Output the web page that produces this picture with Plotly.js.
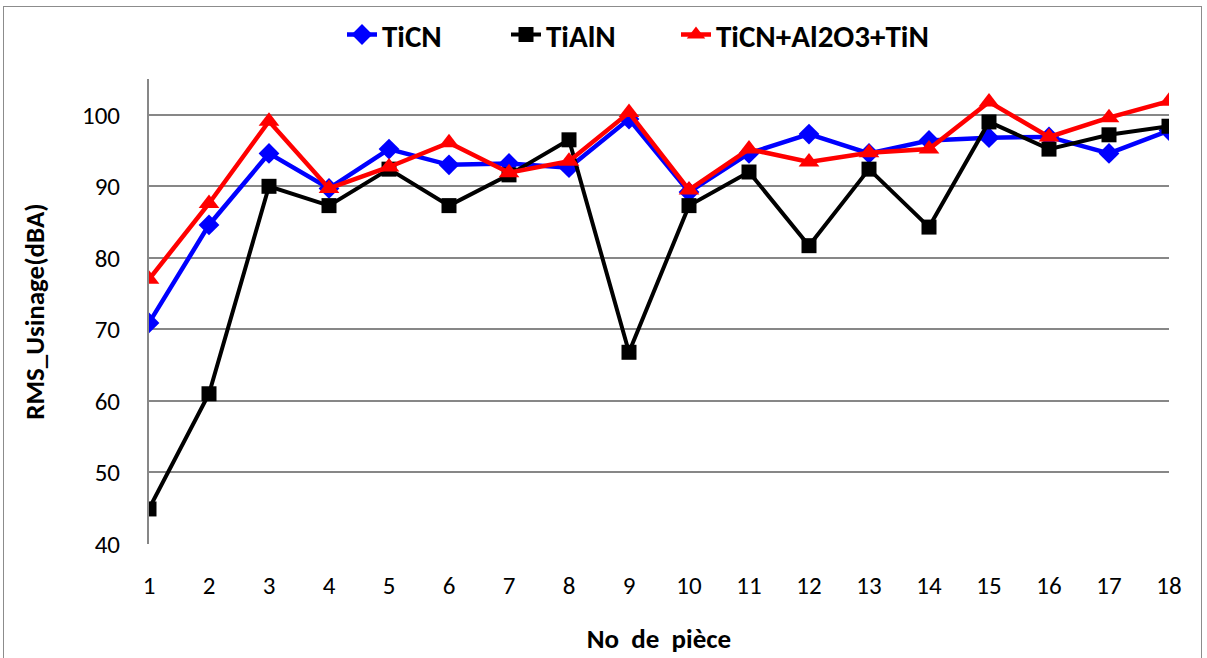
<!DOCTYPE html>
<html>
<head>
<meta charset="utf-8">
<script src="https://cdn.plot.ly/plotly-3.0.1.min.js"></script>
<style>
html,body{margin:0;padding:0;background:#fff;}
#frame{position:absolute;left:3px;top:6px;width:1199px;height:700px;border:1.5px solid #8c8c8c;box-sizing:border-box;}
#chart{position:absolute;left:0;top:0;width:1207px;height:658px;}
</style>
</head>
<body>
<div id="frame"></div>
<div id="chart"></div>
<script>
const pieces = [1,2,3,4,5,6,7,8,9,10,11,12,13,14,15,16,17,18];
const ticn = [70.9,84.6,94.6,89.7,95.2,93.0,93.2,92.6,99.4,89.2,94.6,97.3,94.6,96.4,96.8,96.9,94.6,97.8];
const tialn = [44.9,61.0,90.0,87.3,92.4,87.3,91.6,96.5,66.8,87.3,92.0,81.7,92.4,84.3,99.0,95.2,97.2,98.4];
const ticnAl = [77.0,87.6,99.1,89.7,92.7,96.1,91.9,93.5,100.3,89.5,95.2,93.4,94.7,95.2,101.8,96.9,99.6,101.9];
const yTicks = [40,50,60,70,80,90,100];

const font = "Carlito, Calibri, 'Liberation Sans Narrow', 'Liberation Sans', sans-serif";

const traces = [
  {x: pieces, y: ticn, name: 'TiCN', mode: 'lines+markers', type: 'scatter', legend: 'legend',
   line: {color: '#0000ff', width: 4.5}, marker: {symbol: 'diamond', size: 16, color: '#0000ff'}},
  {x: pieces, y: tialn, name: 'TiAlN', mode: 'lines+markers', type: 'scatter', legend: 'legend2',
   line: {color: '#000000', width: 4}, marker: {symbol: 'square', size: 15, color: '#000000'}},
  {x: pieces, y: ticnAl, name: 'TiCN+Al2O3+TiN', mode: 'lines+markers', type: 'scatter', legend: 'legend3',
   line: {color: '#ff0000', width: 4.5}, marker: {symbol: 'triangle-up', size: 18, color: '#ff0000'}}
];

function leg(xp) {
  return {orientation: 'h', x: (xp - 149) / 1020, xanchor: 'left', y: 1.095, yanchor: 'middle',
          font: {family: font, size: 31, color: '#000', weight: 'bold'},
          bgcolor: 'rgba(0,0,0,0)', borderwidth: 0};
}

const layout = {
  width: 1207, height: 658,
  margin: {l: 149, r: 38, t: 79, b: 114, autoexpand: false},
  paper_bgcolor: 'rgba(0,0,0,0)', plot_bgcolor: '#fff',
  font: {family: font, size: 24, color: '#000'},
  showlegend: true,
  legend: leg(342),
  legend2: leg(506),
  legend3: leg(676),
  xaxis: {
    range: [1, 18], tickmode: 'array', tickvals: pieces, ticktext: pieces.map(String),
    showgrid: false, zeroline: false, showline: false, ticks: '',
    ticklabelstandoff: 24, tickfont: {size: 25, family: font},
    title: {text: '<b>No  de  pièce</b>', font: {size: 27, family: font}, standoff: 29}
  },
  yaxis: {
    range: [40, 105], tickmode: 'array', tickvals: yTicks, ticktext: yTicks.map(String),
    showgrid: true, gridcolor: '#878787', gridwidth: 2, zeroline: false,
    showline: true, linecolor: '#878787', linewidth: 2, ticks: '',
    ticklabelstandoff: 22, tickfont: {size: 25, family: font},
    title: {text: '<b>RMS_Usinage(dBA)</b>', font: {size: 27, family: font}, standoff: 30}
  }
};

Plotly.newPlot('chart', traces, layout, {displayModeBar: false, staticPlot: true});
</script>
</body>
</html>
